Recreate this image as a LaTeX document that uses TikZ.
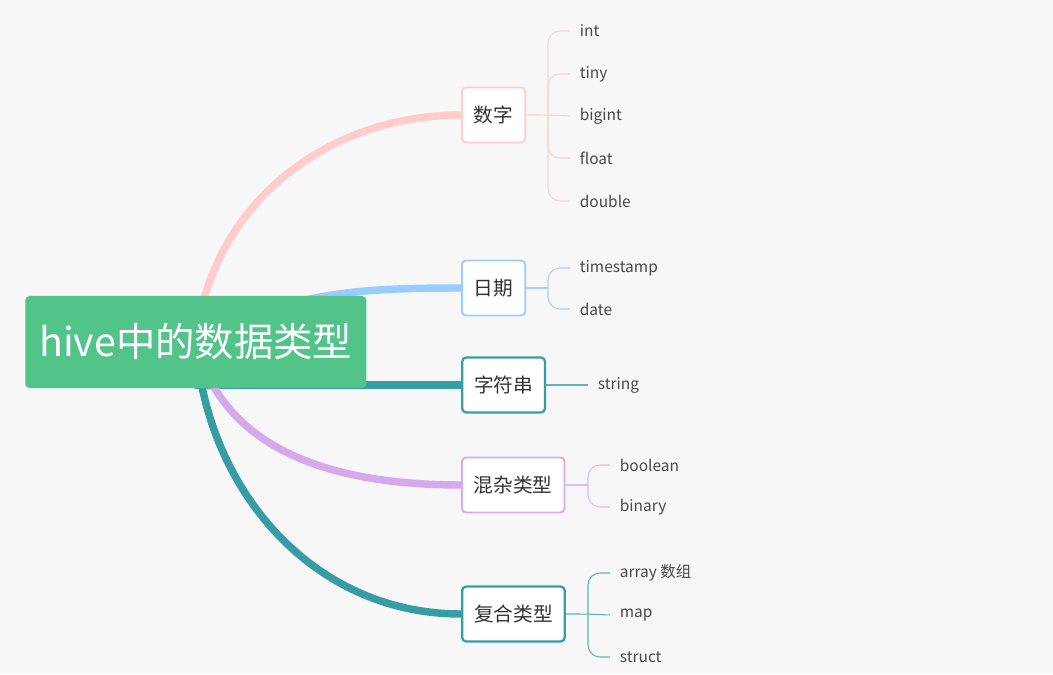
\documentclass[tikz,border=0pt]{standalone}
\usepackage{fontspec}
\setmainfont{Noto Sans CJK SC}
\usetikzlibrary{positioning,backgrounds}
\definecolor{pagebg}{HTML}{F7F7F7}
\definecolor{rootgreen}{HTML}{52C48A}
\definecolor{numpink}{HTML}{FFCCCC}
\definecolor{numleaf}{HTML}{F9D3D3}
\definecolor{dateblue}{HTML}{99CCFF}
\definecolor{dateleaf}{HTML}{A6D0F5}
\definecolor{strteal}{HTML}{379DA4}
\definecolor{strleaf}{HTML}{5DB3B9}
\definecolor{misclilac}{HTML}{D6A8EC}
\definecolor{miscleaf}{HTML}{DDBBEE}
\definecolor{labelgray}{HTML}{333333}
\definecolor{leafgray}{HTML}{484848}
\pgfdeclarelayer{canvas}
\pgfsetlayers{canvas,background,main}
\tikzset{
  topic/.style={rectangle, rounded corners=3pt, fill=rootgreen, text=white, minimum width=85.25mm, minimum height=23mm, anchor=west, font=\fontsize{28}{32}\selectfont},
  cat/.style={rectangle, rounded corners=3pt, fill=white, line width=1.3pt, minimum height=13.75mm, inner xsep=8.5pt, anchor=west, font=\fontsize{14}{16}\selectfont, text=labelgray},
  leaf/.style={anchor=west, inner xsep=2.4mm, inner ysep=1pt, font=\fontsize{11}{13}\selectfont, text=leafgray},
  branch/.style={line width=5.3pt, line cap=round},
  twig/.style={line width=0.75pt, rounded corners=3mm},
}
\begin{document}
\begin{tikzpicture}[x=0.25mm, y=0.25mm]
  \useasboundingbox (0,0) rectangle (1053,674);
  \begin{pgfonlayer}{canvas}
    \fill[pagebg] (0,0) rectangle (1053,674);
  \end{pgfonlayer}
  % centre topic and the five categories
  \node[topic] (root) at (25,332) {hive中的数据类型};
  \node[cat, draw=numpink] (num) at (461,559) {数字};
  \node[cat, draw=dateblue] (date) at (461,386) {日期};
  \node[cat, draw=strteal, line width=1.6pt] (str) at (461,289) {字符串};
  \node[cat, draw=misclilac] (misc) at (461,189) {混杂类型};
  \node[cat, draw=strteal, line width=1.6pt] (comp) at (461,60) {复合类型};
  % leaves
  \node[leaf] (int) at (570,643) {int};
  \node[leaf] (tiny) at (570,600) {tiny};
  \node[leaf] (bigint) at (570,558) {bigint};
  \node[leaf] (float) at (570,516) {float};
  \node[leaf] (double) at (570,473) {double};
  \node[leaf] (tstamp) at (570,406) {timestamp};
  \node[leaf] (dateval) at (570,365) {date};
  \node[leaf] (string) at (588,289) {string};
  \node[leaf] (boolean) at (610,209) {boolean};
  \node[leaf] (binary) at (610,167) {binary};
  \node[leaf] (array) at (610,101) {array 数组};
  \node[leaf] (map) at (610,59) {map};
  \node[leaf] (struct) at (610,17) {struct};
  \coordinate (numsplit) at (548,559);
  \coordinate (datesplit) at (548,386);
  \coordinate (miscsplit) at (588,189);
  \coordinate (compsplit) at (588,60);
  \begin{scope}[on background layer]
    \draw[branch, numpink] (root.center) to[out=84,in=180] (num.west);
    \draw[branch, dateblue] (root.center) to[out=28,in=180] (date.west);
    \draw[branch, strteal] (root.center |- str.west) -- (str.west);
    \draw[branch, misclilac] (root.center) to[out=-76,in=180] (misc.west);
    \draw[branch, strteal] (root.center) to[out=-86,in=180] (comp.west);
  \end{scope}
  % twigs to the leaves
  \draw[twig, numleaf] (num.east) -- (numsplit) -- (bigint.west);
  \draw[twig, numleaf] (numsplit) |- (int.west);
  \draw[twig, numleaf] (numsplit) |- (tiny.west);
  \draw[twig, numleaf] (numsplit) |- (float.west);
  \draw[twig, numleaf] (numsplit) |- (double.west);
  \draw[twig, dateleaf] (date.east) -- (datesplit);
  \draw[twig, dateleaf] (datesplit) |- (tstamp.west);
  \draw[twig, dateleaf] (datesplit) |- (dateval.west);
  \draw[twig, strleaf] (str.east) -- (string.west);
  \draw[twig, miscleaf] (misc.east) -- (miscsplit);
  \draw[twig, miscleaf] (miscsplit) |- (boolean.west);
  \draw[twig, miscleaf] (miscsplit) |- (binary.west);
  \draw[twig, strleaf] (comp.east) -- (compsplit) -- (map.west);
  \draw[twig, strleaf] (compsplit) |- (array.west);
  \draw[twig, strleaf] (compsplit) |- (struct.west);
\end{tikzpicture}
\end{document}
